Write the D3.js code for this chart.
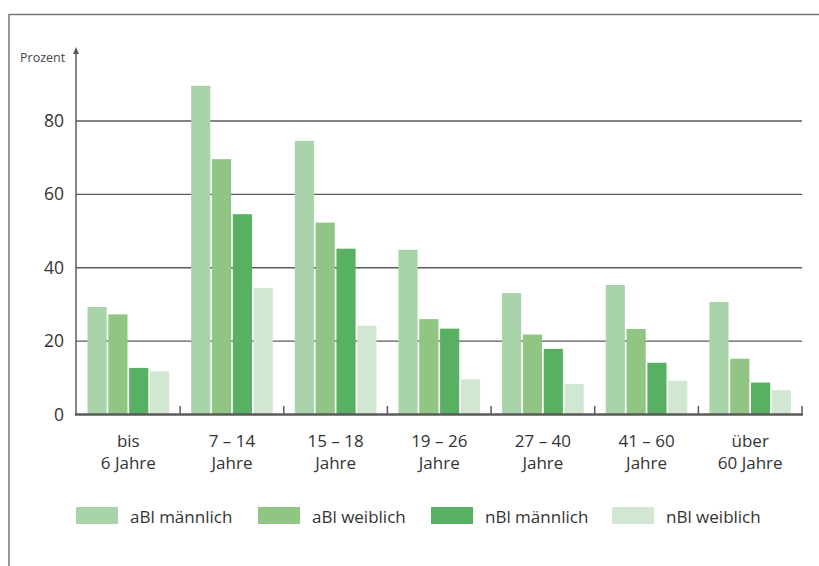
<!DOCTYPE html>
<html><head><meta charset="utf-8">
<script src="https://cdn.jsdelivr.net/npm/d3@7"></script>
<style>body{margin:0;background:#fff;} svg{display:block;font-family:"Open Sans","Noto Sans",sans-serif;}</style>
</head><body>
<svg id="c" width="819" height="566"></svg>
<script>
const categories = [["bis","6 Jahre"],["7 – 14","Jahre"],["15 – 18","Jahre"],["19 – 26","Jahre"],["27 – 40","Jahre"],["41 – 60","Jahre"],["über","60 Jahre"]];
const seriesNames = ["aBl männlich","aBl weiblich","nBl männlich","nBl weiblich"];
const aBlM = [29.3, 89.6, 74.6, 44.9, 33.1, 35.3, 30.7];
const aBlW = [27.3, 69.6, 52.3, 26.0, 21.8, 23.3, 15.2];
const nBlM = [12.7, 54.6, 45.2, 23.4, 17.9, 14.1, 8.7];
const nBlW = [11.8, 34.5, 24.2, 9.6, 8.3, 9.2, 6.6];
const seriesValues = [aBlM, aBlW, nBlM, nBlW];
const yTicks = [0, 20, 40, 60, 80];
const colors = ["#a9d3a8", "#90c584", "#58b063", "#d1e7d1"];

const svg = d3.select("#c");
// frame
svg.append("path").attr("d","M9,566 V14.5 H819").attr("fill","none").attr("stroke","#7a7a7a").attr("stroke-width",1.5);

const x0 = d3.scaleBand().domain(d3.range(categories.length)).range([76.5, 802]).padding(0);
const x1 = d3.scaleBand().domain(d3.range(seriesNames.length)).range([11, x0.bandwidth()-11]).paddingInner(0.08).paddingOuter(0);
const y = d3.scaleLinear().domain([0, 80]).range([414.5, 121]);

// gridlines
svg.append("g").selectAll("line").data(yTicks.filter(d=>d>0)).join("line")
  .attr("x1",76).attr("x2",802).attr("y1",d=>y(d)).attr("y2",d=>y(d))
  .attr("stroke","#5a5a5a").attr("stroke-width",1.3);

// bars
const g = svg.append("g").selectAll("g").data(categories.map((c,i)=>i)).join("g")
  .attr("transform", i=>`translate(${x0(i)},0)`);
g.selectAll("rect").data(i=>seriesValues.map((s,k)=>({k, v:s[i]}))).join("rect")
  .attr("x", d=>x1(d.k)).attr("width", x1.bandwidth())
  .attr("y", d=>y(d.v)).attr("height", d=>y(0)-y(d.v))
  .attr("fill", d=>colors[d.k]);

// y axis
const yAxis = d3.axisLeft(y).tickValues(yTicks).tickSize(0).tickPadding(12);
const ya = svg.append("g").attr("transform","translate(76,0)").call(yAxis);
ya.select(".domain").remove();
ya.selectAll("text").attr("font-size",17.5).attr("fill","#333").attr("font-family","'Open Sans','Noto Sans',sans-serif");
svg.append("line").attr("x1",76).attr("x2",76).attr("y1",415).attr("y2",51).attr("stroke","#5a5a5a").attr("stroke-width",1.5);
svg.append("path").attr("d","M76,47 L73,54 L79,54 Z").attr("fill","#5a5a5a");
svg.append("text").attr("x",20).attr("y",62).attr("font-size",12.5).attr("fill","#444").text("Prozent");

// x axis baseline and ticks
svg.append("line").attr("x1",75).attr("x2",803).attr("y1",414.5).attr("y2",414.5).attr("stroke","#5a5a5a").attr("stroke-width",2.5);
svg.append("g").selectAll("line").data(d3.range(1, categories.length+1)).join("line")
  .attr("x1", i=> i<categories.length ? x0(i) : 802).attr("x2", i=> i<categories.length ? x0(i) : 802)
  .attr("y1",406).attr("y2",414).attr("stroke","#5a5a5a").attr("stroke-width",1.5);

// x labels
const lab = svg.append("g").selectAll("text").data(categories.map((c,i)=>i)).join("text")
  .attr("text-anchor","middle").attr("font-size",17).attr("fill","#333")
  .attr("transform", i=>`translate(${x0(i)+x0.bandwidth()/2},0)`);
lab.append("tspan").attr("x",0).attr("y",447).text(i=>categories[i][0]);
lab.append("tspan").attr("x",0).attr("y",469).text(i=>categories[i][1]);

// legend
const legX = [76, 258, 431, 612];
const leg = svg.append("g").selectAll("g").data(seriesNames.map((s,k)=>k)).join("g")
  .attr("transform", k=>`translate(${legX[k]},507)`);
leg.append("rect").attr("width",42).attr("height",17).attr("fill",k=>colors[k]);
leg.append("text").attr("x",54).attr("y",16).attr("font-size",17).attr("fill","#333").text(k=>seriesNames[k]);
</script>
</body></html>
